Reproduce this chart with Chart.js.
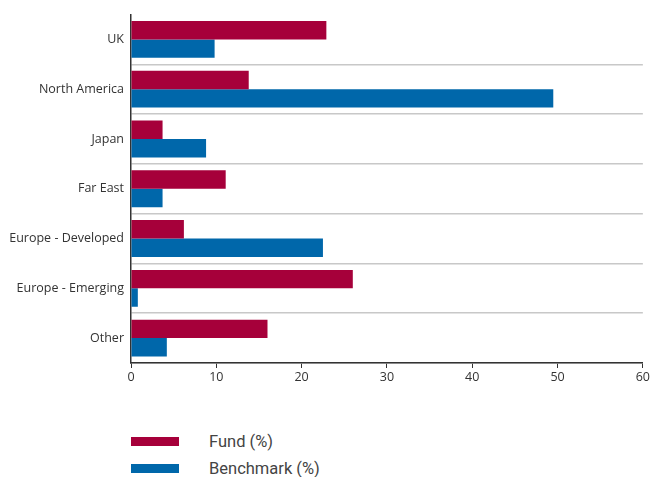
<!DOCTYPE html>
<html><head><meta charset="utf-8">
<script src="https://cdn.jsdelivr.net/npm/chart.js@4/dist/chart.umd.min.js"></script>
<style>
html,body{margin:0;padding:0;background:#fff;}
#wrap{position:relative;width:652px;height:477px;}
#c{position:absolute;left:0;top:0;}
#legend{position:absolute;left:131px;top:428px;font-family:"Liberation Sans Narrow","Roboto","Open Sans",sans-serif;font-size:16.5px;color:#444;}
.item{display:flex;align-items:center;height:27px;}
.sw{width:48px;height:9px;margin-right:30px;}
</style></head>
<body><div id="wrap"><canvas id="c" width="652" height="395"></canvas><div id="legend"></div></div>
<script>
const categories = ["UK","North America","Japan","Far East","Europe - Developed","Europe - Emerging","Other"];
const fundValues = [22.9, 13.8, 3.7, 11.1, 6.2, 26.0, 16.0];
const benchmarkValues = [9.8, 49.5, 8.8, 3.7, 22.5, 0.8, 4.2];
const seriesNames = ["Fund (%)", "Benchmark (%)"];
const seriesColors = ["#a6003a", "#0067aa"];
const xTicks = [0,10,20,30,40,50,60];

const font = {family:"'Open Sans', sans-serif", size:12.5};
const chart = new Chart(document.getElementById('c'), {
  type:'bar',
  data:{labels:categories, datasets:[
    {label:seriesNames[0], data:fundValues, backgroundColor:seriesColors[0], categoryPercentage:0.74, barPercentage:1.0},
    {label:seriesNames[1], data:benchmarkValues, backgroundColor:seriesColors[1], categoryPercentage:0.74, barPercentage:1.0}
  ]},
  options:{
    indexAxis:'y', responsive:false, animation:false,
    layout:{padding:{top:13,right:7,left:0,bottom:0}},
    plugins:{legend:{display:false}, tooltip:{enabled:false}},
    scales:{
      x:{min:0,max:60,
        afterBuildTicks:s=>{s.ticks=xTicks.map(v=>({value:v}));},
        afterFit:s=>{s.height=32;},
        grid:{display:true,drawOnChartArea:false,drawTicks:true,tickLength:5,color:'#333',lineWidth:1},
        border:{display:true,color:'#333',width:1.5},
        ticks:{color:'#333',font:font,padding:2,maxRotation:0}
      },
      y:{
        afterFit:s=>{s.width=131;},
        grid:{offset:true,drawTicks:false,drawOnChartArea:true,
          color:ctx=>ctx.index===0?'rgba(0,0,0,0)':'#c8c8c8',lineWidth:1.5},
        border:{display:true,color:'#333',width:1.5},
        ticks:{color:'#333',font:font,padding:7}
      }
    }
  }
});
const lg=document.getElementById('legend');
seriesNames.forEach((n,i)=>{
  const d=document.createElement('div');d.className='item';
  d.innerHTML='<div class="sw" style="background:'+seriesColors[i]+'"></div><span>'+n+'</span>';
  lg.appendChild(d);
});
</script></body></html>
